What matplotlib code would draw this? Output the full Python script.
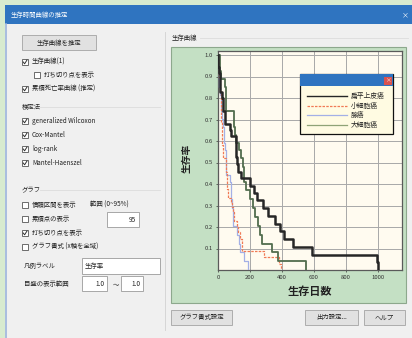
import matplotlib
matplotlib.use('Agg')
import matplotlib.pyplot as plt
from matplotlib.patches import Rectangle

plt.rcParams['font.family'] = ['Noto Sans CJK JP', 'DejaVu Sans']

# ---------------- data ----------------
series_names = ['扁平上皮癌', '小細胞癌', '腺癌', '大細胞癌']

sq_t = [0, 1, 8, 10, 11, 15, 25, 30, 33, 42, 44, 72, 82, 110, 111, 112, 118, 126, 144,
        201, 228, 242, 283, 314, 357, 389, 411, 467, 587, 991, 999]
sq_s = [1.0, 0.943, 0.914, 0.886, 0.857, 0.829, 0.800, 0.770, 0.741, 0.711, 0.681, 0.652,
        0.622, 0.589, 0.557, 0.524, 0.491, 0.458, 0.426, 0.393, 0.360, 0.324, 0.288, 0.252,
        0.216, 0.180, 0.144, 0.108, 0.072, 0.036, 0.0]

sc_t = [0, 2, 4, 7, 8, 10, 13, 16, 18, 20, 21, 22, 24, 25, 27, 29, 30, 31, 51, 52, 54, 56,
        59, 61, 63, 80, 87, 95, 99, 117, 122, 139, 151, 153, 287, 384, 392]
sc_s = [1.0, 0.979, 0.958, 0.917, 0.896, 0.875, 0.833, 0.813, 0.771, 0.729, 0.688, 0.667,
        0.646, 0.604, 0.583, 0.563, 0.542, 0.521, 0.479, 0.458, 0.417, 0.396, 0.375, 0.354,
        0.333, 0.313, 0.292, 0.271, 0.226, 0.201, 0.176, 0.146, 0.117, 0.088, 0.059, 0.029, 0.0]

ad_t = [0, 3, 7, 8, 12, 18, 19, 24, 31, 35, 36, 45, 48, 51, 52, 73, 80, 84, 90, 92, 95,
        117, 132, 140, 162, 186]
ad_s = [1.0, 0.963, 0.926, 0.852, 0.815, 0.778, 0.741, 0.704, 0.667, 0.630, 0.593, 0.556,
        0.519, 0.481, 0.444, 0.407, 0.370, 0.329, 0.288, 0.247, 0.206, 0.165, 0.123, 0.082,
        0.041, 0.0]

lg_t = [0, 12, 15, 19, 43, 49, 52, 53, 100, 103, 105, 111, 133, 143, 156, 162, 164, 177,
        200, 216, 231, 250, 260, 278, 340, 378, 553]
lg_s = [1.0, 0.963, 0.926, 0.889, 0.852, 0.815, 0.778, 0.741, 0.704, 0.667, 0.630, 0.593,
        0.556, 0.519, 0.481, 0.444, 0.407, 0.370, 0.329, 0.288, 0.247, 0.206, 0.165, 0.123,
        0.082, 0.041, 0.0]

x_ticks = [0, 200, 400, 600, 800, 1000]
y_ticks = [0.1, 0.2, 0.3, 0.4, 0.5, 0.6, 0.7, 0.8, 0.9, 1.0]

# ---------------- figure ----------------
W, H = 412, 338
fig = plt.figure(figsize=(W / 100, H / 100), dpi=100)
bg = fig.add_axes([0, 0, 1, 1], zorder=0)
bg.set_xlim(0, W); bg.set_ylim(H, 0); bg.axis('off')

UI = 4.6


def rect(ax, x0, y0, x1, y1, fc, ec='none', lw=0.6, z=1):
    ax.add_patch(Rectangle((x0, y0), x1 - x0, y1 - y0, facecolor=fc,
                           edgecolor=ec, linewidth=lw, zorder=z))


def text(ax, x, y, s, size=UI, **kw):
    kw.setdefault('va', 'center')
    kw.setdefault('color', '#222222')
    ax.text(x, y, s, fontsize=size, zorder=5, **kw)


def checkbox(x, y, label, checked):
    rect(bg, x, y - 3, x + 6, y + 3, 'white', ec='#555555', lw=0.6, z=3)
    if checked:
        bg.plot([x + 1.2, x + 2.6, x + 5.0], [y, y + 1.8, y - 2.0], color='#333333', lw=0.7, zorder=4)
    text(bg, x + 10, y, label)


def button(x0, y0, x1, y1, label):
    rect(bg, x0, y0, x1, y1, '#e1e1e1', ec='#adadad', lw=0.7, z=2)
    text(bg, (x0 + x1) / 2, (y0 + y1) / 2, label, ha='center')


def textbox(x0, y0, x1, y1, label, ha='right'):
    rect(bg, x0, y0, x1, y1, 'white', ec='#9a9a9a', lw=0.6, z=2)
    if ha == 'right':
        text(bg, x1 - 3, (y0 + y1) / 2, label, ha='right')
    else:
        text(bg, x0 + 3, (y0 + y1) / 2, label, ha='left')


# outer background and window
rect(bg, 0, 0, W, H, '#d8ebcf', z=0)
rect(bg, 5, 5, W, H, '#f0f0f0', z=0.5)
rect(bg, 5, 5, W, 24, '#2f74c0', z=1)
bg.plot([6, 6], [24, H], color='#9db4dc', lw=1.2, zorder=1)
text(bg, 11, 15, '生存時間曲線の推定', color='white')
text(bg, 405, 15, '×', color='white', ha='center', size=5)

# left panel
button(22, 35, 96, 50, '生存曲線を推定')
checkbox(22, 62, '生存曲線(1)', True)
checkbox(34, 75, '打ち切り点を表示', False)
checkbox(22, 89, '累積死亡率曲線 (推定)', True)
bg.plot([40, 160], [107, 107], color='#dcdcdc', lw=0.6, zorder=1)
text(bg, 22, 107, '検定法')
checkbox(22, 121, 'generalized Wilcoxon', True)
checkbox(22, 135, 'Cox-Mantel', True)
checkbox(22, 149, 'log-rank', True)
checkbox(22, 163, 'Mantel-Haenszel', True)
bg.plot([40, 160], [190, 190], color='#dcdcdc', lw=0.6, zorder=1)
text(bg, 22, 190, 'グラフ')
checkbox(22, 205, '信頼区間を表示', False)
text(bg, 90, 205, '範囲 (0~95%)')
checkbox(22, 219, '累積点の表示', False)
textbox(107, 212, 139, 227, '95')
checkbox(22, 233, '打ち切り点を表示', True)
checkbox(22, 247, 'グラフ書式 (x軸を全域)', False)
text(bg, 24, 266, '凡例ラベル')
textbox(82, 258, 160, 274, '生存率', ha='left')
text(bg, 24, 284, '目盛の表示範囲')
textbox(82, 276, 107, 291, '1.0')
text(bg, 113, 284, '～')
textbox(121, 276, 143, 291, '1.0')
bg.plot([165, 165], [32, 330], color='#d6d6d6', lw=0.7, zorder=1)

# chart group
text(bg, 172, 38, '生存曲線')
bg.plot([200, 408], [38, 38], color='#dcdcdc', lw=0.6, zorder=1)
rect(bg, 171, 47, 406, 303, '#c4e0c4', ec='#8da88d', lw=0.8, z=1)

# bottom buttons
button(171, 310, 232, 325, 'グラフ書式設定')
button(305, 310, 358, 325, '出力設定...')
button(364, 310, 405, 325, 'ヘルプ')

# ---------------- plot ----------------
left, right, top, bottom = 218, 402, 51, 270
ax = fig.add_axes([left / W, (H - bottom) / H, (right - left) / W, (bottom - top) / H], zorder=2)
ax.set_facecolor('#fffbf0')
ax.set_xlim(0, 1150)
ax.set_ylim(0, (bottom - top) / 215)

styles = [
    (ad_t, ad_s, dict(color='#a3b0e6', lw=0.9)),
    (sc_t, sc_s, dict(color='#f07a55', lw=0.9, ls=(0, (2, 1)))),
    (lg_t, lg_s, dict(color='#526d4e', lw=1.3)),
    (sq_t, sq_s, dict(color='#262626', lw=1.8)),
]
for t, s, kw in styles:
    ax.step(t, s, where='post', zorder=3, **kw)

ax.set_xticks(x_ticks)
ax.set_xticklabels([str(v) for v in x_ticks])
ax.set_yticks(y_ticks)
ax.set_yticklabels(['%.1f' % v for v in y_ticks])
ax.tick_params(labelsize=4.3, length=1.5, width=0.5, colors='#333333', pad=2)
ax.grid(True, color='#a8a8a8', lw=0.7)
ax.set_axisbelow(True)
for sp in ax.spines.values():
    sp.set_color('#5a5a5a'); sp.set_linewidth(0.9)

# axis labels (in pixel overlay)
text(bg, 310, 291, '生存日数', size=8, ha='center', fontweight='bold')
bg.text(187, 158, '生存率', fontsize=7, rotation=90, ha='center', va='center',
        fontweight='bold', color='#222222', zorder=5)

# ---------------- legend overlay ----------------
top_ax = fig.add_axes([0, 0, 1, 1], zorder=10)
top_ax.set_xlim(0, W); top_ax.set_ylim(H, 0); top_ax.axis('off')
top_ax.patch.set_alpha(0)
rect(top_ax, 300, 74, 393, 134, '#fffbe2', ec='#111111', lw=0.9, z=1)
rect(top_ax, 300, 74, 393, 86, '#2f74c0', z=2)
rect(top_ax, 384, 76.5, 392, 84.5, '#d9534f', z=3)
text(top_ax, 388, 80.5, '×', color='white', ha='center', size=4)
leg_styles = [styles[3][2], styles[1][2], styles[0][2], dict(color='#8fa376', lw=0.9)]
for i, (name, kw) in enumerate(zip(series_names, leg_styles)):
    y = 96 + i * 9.5
    kw2 = dict(kw); kw2['lw'] = min(kw2['lw'], 1.0)
    top_ax.plot([307, 347], [y, y], zorder=4, **kw2)
    text(top_ax, 351, y, name, size=UI + 0.3)

fig.savefig('out.png', dpi=100)
